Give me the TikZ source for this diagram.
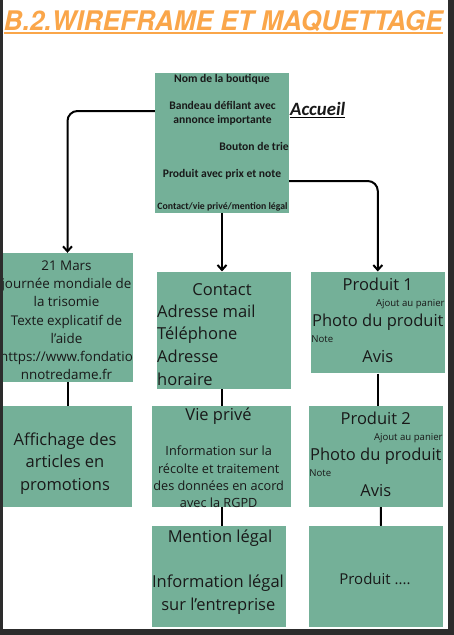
\documentclass[tikz,border=0pt]{standalone}
\usepackage{graphicx}
\usepackage{fontspec}
\setmainfont{Open Sans}
\newfontfamily\titlefont{TeX Gyre Heros}
\newfontfamily\calfont{Carlito}
\usetikzlibrary{arrows.meta}

\definecolor{boxgreen}{RGB}{116,176,152}
\definecolor{titleorange}{RGB}{250,166,74}
\definecolor{pagedark}{RGB}{44,44,44}

\tikzset{
  box/.style 2 args={fill=boxgreen, inner sep=0pt, minimum width=#1pt, minimum height=#2pt},
  txt/.style={inner sep=0pt, anchor=base, text=black!90},
  fbig/.style={txt, font=\fontsize{16.5}{20}\selectfont},
  fmid/.style={txt, font=\fontsize{13.4}{16}\selectfont},
  fsmall/.style={txt, font=\fontsize{12.7}{15}\selectfont},
  ftiny/.style={txt, font=\fontsize{9.6}{11}\selectfont},
  fcal/.style={txt, font=\calfont\bfseries\fontsize{11.6}{13}\selectfont},
  link/.style={line width=2pt},
}

\begin{document}
\begin{tikzpicture}[x=1pt, y=-1pt, >={Straight Barb[length=5pt,width=9pt]}]

    \useasboundingbox (0,0) rectangle (454,635);

    % ================================================================================================
    % titre
    % ================================================================================================
    \node [txt, anchor=base west, text=titleorange] (title) at (3.5,30)
    {\resizebox{439pt}{20pt}{\titlefont\bfseries\itshape B.2.WIREFRAME ET MAQUETTAGE}};
    \draw [titleorange, line width=2pt] ([yshift=-3pt]title.base west) -- ([yshift=-3pt]title.base east);

    % ================================================================================================
    % blocs
    % ================================================================================================
    \node [box={134}{140}]   (accueil) at (222,142.7) {};
    \node [box={131}{129}]   (mars)    at (67.5,317.5) {};
    \node [box={130}{101}]   (affiche) at (67,456.5) {};
    \node [box={134}{117.3}] (contact) at (224,330.3) {};
    \node [box={139}{101}]   (vie)     at (221.5,456.5) {};
    \node [box={134}{101.6}] (mention) at (219,576.5) {};
    \node [box={133.7}{101.6}] (prod1) at (377.8,322.5) {};
    \node [box={133.7}{101}] (prod2)   at (375.8,456.5) {};
    \node [box={134}{101.3}] (prodx)   at (376,576.6) {};

    % ================================================================================================
    % accueil
    % ================================================================================================
    \node [fcal] (acc-1) at (222,82) {Nom de la boutique};
    \node [fcal] (acc-2) at (222.5,109.4) {Bandeau défilant avec};
    \node [fcal] (acc-3) at (222.5,123.7) {annonce importante};
    \node [fcal, anchor=base east] (acc-4) at (289,150.4) {Bouton de trie};
    \node [fcal] (acc-5) at (222,177.7) {Produit avec prix et note};
    \node [fcal, font=\calfont\bfseries\fontsize{9.8}{11}\selectfont] (acc-6) at (222.5,209.8) {Contact/vie privé/mention légal};

    \node [txt, anchor=base west, font=\calfont\bfseries\itshape\fontsize{18.8}{22}\selectfont] (accueil-t) at (290,115.5) {Accueil};
    \draw [line width=1.4pt] ([yshift=-2.2pt]accueil-t.base west) -- ([yshift=-2.2pt]accueil-t.base east);

    % ================================================================================================
    % textes des blocs
    % ================================================================================================
    \foreach \t [count=\i] in {21 Mars, journée mondiale de, la trisomie, Texte explicatif de, l’aide, https://www.fondatio, nnotredame.fr}
    \node [fmid] (mars-\i) at (66.5,252.4+\i*18.15) {\t};

    \foreach \t [count=\i] in {Affichage des, articles en, promotions}
    \node [fbig] (affiche-\i) at (65,422.5+\i*22.5) {\t};

    \node [fbig] (contact-t) at (222,295.3) {Contact};
    \foreach \t [count=\i] in {Adresse mail, Téléphone, Adresse, horaire}
    \node [fbig, anchor=base west] (contact-\i) at (157,294.3+\i*22.7) {\t};

    \node [fbig] (vie-t) at (218.5,420) {Vie privé};
    \foreach \t [count=\i] in {Information sur la, récolte et traitement, des données en acord, avec la RGPD}
    \node [fsmall] (vie-\i) at (218.7,438.2+\i*17.4) {\t};

    \node [fbig] (mention-t) at (220,542) {Mention légal};
    \node [fbig] (mention-1) at (218,587.7) {Information légal};
    \node [fbig] (mention-2) at (218.3,610) {sur l’entreprise};

    \foreach \n in {1,2} {
      \node [fbig] (prod\n-t) at ([yshift=-18.5pt]prod\n.north) {Produit \n};
      \node [ftiny, anchor=base east] (prod\n-a) at ([yshift=-34.5pt]prod\n.north east) {Ajout au panier};
      \node [fbig] (prod\n-p) at ([yshift=-55pt]prod\n.north) {Photo du produit};
      \node [ftiny, anchor=base west] (prod\n-n) at ([xshift=0.5pt,yshift=-70.5pt]prod\n.north west) {Note};
      \node [fbig] (prod\n-v) at ([yshift=-90.5pt]prod\n.north) {Avis};
    }

    \node [txt, font=\fontsize{15}{18}\selectfont] (prodx-t) at (375,584.7) {Produit ....};

    % ================================================================================================
    % liaisons
    % ================================================================================================
    \draw [link, ->, rounded corners=10pt] ([yshift=31.7pt]accueil.west) -| (mars.north);
    \draw [link, ->] (accueil.south) -- (accueil.south |- contact.north);
    \draw [link, ->, rounded corners=10pt] ([yshift=-38.3pt]accueil.east) -| (prod1.north);

    \draw [link] (mars.south) -- (mars.south |- affiche.north);
    \draw [link] (vie.north |- contact.south) -- (vie.north);
    \draw [link] (vie.south) -- (vie.south |- mention.north);
    \draw [link] (prod1.south) -- (prod1.south |- prod2.north);
    \draw [link] ([xshift=5pt]prod2.south) -- ([xshift=5pt]prodx.north);

    % ================================================================================================
    % bord de page
    % ================================================================================================
    \fill [pagedark] (0,0) rectangle (3,635);
    \fill [pagedark] (448,0) rectangle (454,635);
    \fill [pagedark] (0,629) rectangle (454,635);

  \end{tikzpicture}
\end{document}
